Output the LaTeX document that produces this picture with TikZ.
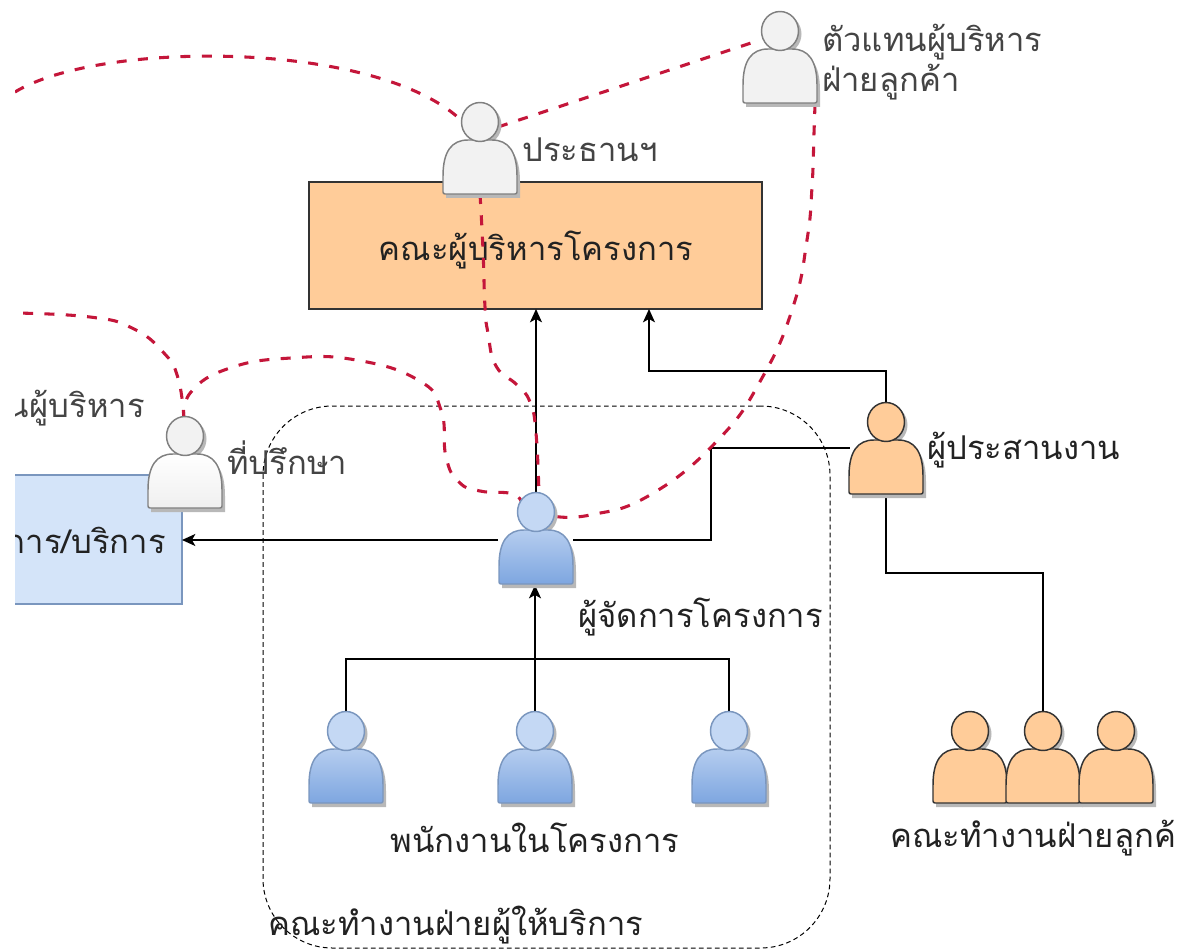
\documentclass[tikz,border=0pt]{standalone}
\usepackage{fontspec}
\usetikzlibrary{arrows.meta}
\newfontfamily\thaifont[Script=Thai]{Loma}
\definecolor{bluetop}{HTML}{B5CDEF}
\definecolor{bluebot}{HTML}{7EA6E0}
\definecolor{bluehead}{HTML}{C4D8F4}
\definecolor{blueline}{HTML}{7A96BE}
\definecolor{orangefill}{HTML}{FFCC99}
\definecolor{grayfill}{HTML}{F2F2F2}
\definecolor{advbot}{HTML}{EFEFEF}
\definecolor{grayline}{HTML}{808080}
\definecolor{orangeline}{HTML}{333333}
\definecolor{redline}{HTML}{C4163A}
\definecolor{boxblue}{HTML}{D4E4F9}
\definecolor{txtdark}{HTML}{222222}
\definecolor{txtgray}{HTML}{444444}
\tikzset{
  pics/person/.style n args={4}{code={
    \fill[black!28] (-34,95) -- (-34,79) .. controls (-34,52) and (-25,41) .. (-7,41) -- (13,41) .. controls (31,41) and (40,52) .. (40,79) -- (40,95) -- cycle;
    \fill[black!28] (3,22) ellipse [x radius=18.5*0.75pt, y radius=19.5*0.75pt];
    \path[draw=#3, line width=1.1pt, top color=#1, bottom color=#2, rounded corners=1.5pt] (-37,91) -- (-37,75) .. controls (-37,48) and (-28,37) .. (-10,37) -- (10,37) .. controls (28,37) and (37,48) .. (37,75) -- (37,91) -- cycle;
    \path[draw=#3, line width=1.1pt, fill=#4] (0,19) ellipse [x radius=18.5*0.75pt, y radius=19.5*0.75pt];
    \coordinate (-top) at (0,0);
    \coordinate (-bottom) at (0,91);
  }},
  linkline/.style={draw=black, line width=1.1pt},
  arrowline/.style={linkline, -{Stealth[length=10pt,width=9pt,inset=2.5pt]}},
  redlink/.style={draw=redline, line width=2.3pt, dash pattern=on 7.5pt off 8.5pt, smooth, tension=0.8},
  group/.style={draw=black, line width=0.75pt, dash pattern=on 3.5pt off 2.5pt, rounded corners=52pt},
  label/.style={font=\thaifont\fontsize{24.6pt}{29pt}\selectfont, text=txtdark, inner sep=0pt},
  graylabel/.style={label, text=txtgray},
}
\begin{document}
\begin{tikzpicture}[x=0.75pt,y=-0.75pt]
\useasboundingbox (0,0) rectangle (1181,952);
\clip (15,0) rectangle (1181,952);

% boxes
\node[draw=orangeline, line width=0.9pt, fill=orangefill, minimum width=453*0.75pt, minimum height=127*0.75pt, inner sep=0pt] (exec) at (535.5,245.5) {};
\node[label] (t0) at (536,250) {คณะผู้บริหารโครงการ};
\node[draw=blueline, line width=0.9pt, fill=boxblue, minimum width=332*0.75pt, minimum height=129*0.75pt, inner sep=0pt] (service) at (16,539.5) {};

% group outline
\node[group, minimum width=567*0.75pt, minimum height=542*0.75pt, inner sep=0pt] (team) at (546.5,677) {};

% anchors of the people
\coordinate (chairpos) at (480,103);
\coordinate (reppos) at (780,12);
\coordinate (advpos) at (185,417);
\coordinate (pmpos) at (536,493);
\coordinate (s1pos) at (346,712);
\coordinate (s2pos) at (535,712);
\coordinate (s3pos) at (729,712);
\coordinate (coordpos) at (886,403);
\coordinate (c1pos) at (970,712);
\coordinate (c2pos) at (1043,712);
\coordinate (c3pos) at (1116,712);
\coordinate (execin) at (649,309);
\coordinate (pmtarget) at (536,309);
\coordinate (svcin) at (182,540);
\coordinate (pmleft) at (498,540);
\coordinate (pmright) at (573,540);
\coordinate (coordleft) at (850,448);
\coordinate (coordbot) at (886,495);
\coordinate (pmbot) at (535,585);
\coordinate (offL) at (15,92);
\coordinate (offL2) at (15,313);

% connectors
\draw[arrowline] (pmpos) -- (pmtarget);
\draw[arrowline] (coordpos) -- (886,371) -- (649,371) -- (execin);
\draw[arrowline] (pmleft) -- (svcin);
\draw[linkline] (pmright) -- (711,540) -- (711,448) -- (coordleft);
\draw[linkline] (coordbot) -- (886,573) -- (1043,573) -- (c2pos);
\draw[arrowline] (s2pos) -- (pmbot);
\draw[linkline] (s1pos) -- (346,659) -- (729,659) -- (s3pos);

% red dashed links
\draw[redlink] (offL) .. controls (100,40) and (380,40) .. (463,122);
\draw[redlink] (498,127) -- (760,40);
\draw[redlink] plot coordinates {(480,194) (483,250) (485,307) (488,333) (496,366) (517,385) (530,402) (536,433) (539,495)};
\draw[redlink] plot coordinates {(815,104) (814,133) (812,187) (807,240) (793,307) (762,378) (718,440) (650,495) (590,515) (553,516)};
\draw[redlink] plot coordinates {(184,420) (178,378) (163,352) (132,328) (90,317) (offL2)};
\draw[redlink] plot coordinates {(184,420) (191,392) (230,368) (291,358) (356,360) (418,380) (441,410) (446,457) (459,482) (480,491) (513,494) (522,505)};

% people
\pic (chair) at (chairpos) {person={grayfill}{grayfill}{grayline}{grayfill}};
\pic (rep) at (reppos) {person={grayfill}{grayfill}{grayline}{grayfill}};
\pic (adv) at (advpos) {person={white}{advbot}{grayline}{grayfill}};
\pic (pm) at (pmpos) {person={bluetop}{bluebot}{blueline}{bluehead}};
\pic (s1) at (s1pos) {person={bluetop}{bluebot}{blueline}{bluehead}};
\pic (s2) at (s2pos) {person={bluetop}{bluebot}{blueline}{bluehead}};
\pic (s3) at (s3pos) {person={bluetop}{bluebot}{blueline}{bluehead}};
\pic (coord) at (coordpos) {person={orangefill}{orangefill}{orangeline}{orangefill}};
\pic (c1) at (c1pos) {person={orangefill}{orangefill}{orangeline}{orangefill}};
\pic (c2) at (c2pos) {person={orangefill}{orangefill}{orangeline}{orangefill}};
\pic (c3) at (c3pos) {person={orangefill}{orangefill}{orangeline}{orangefill}};

% labels
\node[graylabel, anchor=west] (t1) at (822,42) {ตัวแทนผู้บริหาร};
\node[graylabel, anchor=west] (t2) at (822,82) {ฝ่ายลูกค้า};
\node[graylabel, anchor=west] (t3) at (522,150) {ประธานฯ};
\node[graylabel, anchor=east] (t4) at (145,408) {นผู้บริหาร};
\node[graylabel, anchor=west] (t5) at (227,458) {ที่ปรึกษา};
\node[label, anchor=east] (t6) at (166,540) {การ/บริการ};
\node[label, anchor=west] (t7) at (578,617) {ผู้จัดการโครงการ};
\node[label] (t8) at (535,838) {พนักงานในโครงการ};
\node[label, anchor=west] (t9) at (890,838) {คณะทำงานฝ่ายลูกค้};
\node[label, anchor=west] (t10) at (927,450) {ผู้ประสานงาน};
\node[label, anchor=west] (t11) at (268,925) {คณะทำงานฝ่ายผู้ให้บริการ};
\end{tikzpicture}
\end{document}
